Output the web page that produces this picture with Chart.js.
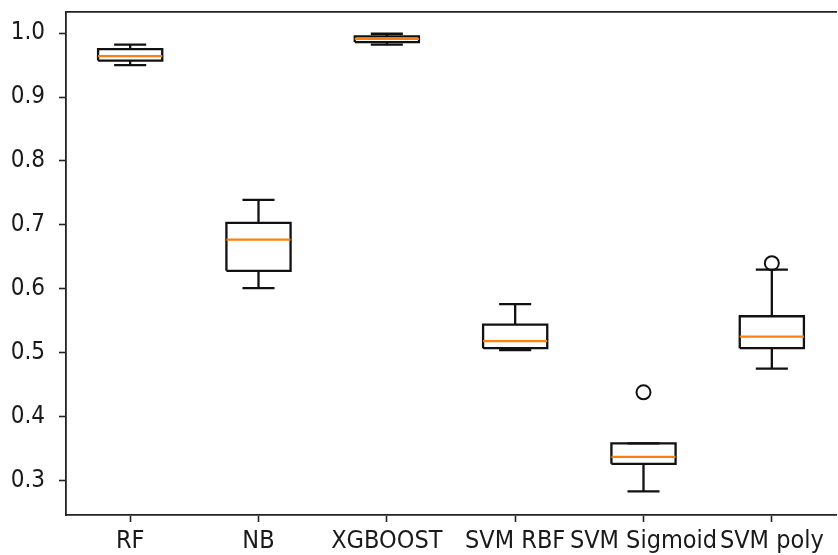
<!DOCTYPE html>
<html>
<head>
<meta charset="utf-8">
<script src="https://cdn.jsdelivr.net/npm/chart.js@4"></script>
<style>
  html, body { margin: 0; padding: 0; background: #fff; overflow: hidden; }
  #wrap { position: relative; width: 845px; height: 555px; }
</style>
</head>
<body>
<div id="wrap"><canvas id="c"></canvas></div>
<script>
// ---- data ----
const categories  = ['RF', 'NB', 'XGBOOST', 'SVM RBF', 'SVM Sigmoid', 'SVM poly'];
const whiskerLow  = [0.950, 0.601, 0.982, 0.504, 0.283, 0.475];
const q1          = [0.957, 0.628, 0.986, 0.507, 0.326, 0.507];
const medians     = [0.964, 0.677, 0.991, 0.518, 0.337, 0.525];
const q3          = [0.975, 0.703, 0.995, 0.544, 0.358, 0.557];
const whiskerHigh = [0.982, 0.739, 0.999, 0.576, 0.358, 0.630];
const outliers    = [[], [], [], [], [0.438], [0.640]];
const yTicks      = [0.3, 0.4, 0.5, 0.6, 0.7, 0.8, 0.9, 1.0];

// ---- build line segments from the values ----
const BOX_HALF = 0.25, CAP_HALF = 0.125;
const gap = (x) => ({ x: x, y: null });
const boxPts = [], medPts = [], whiskPts = [], capPts = [], outPts = [];
categories.forEach((c, i) => {
  const x = i + 1;
  boxPts.push({x: x - BOX_HALF, y: q1[i]}, {x: x + BOX_HALF, y: q1[i]},
              {x: x + BOX_HALF, y: q3[i]}, {x: x - BOX_HALF, y: q3[i]},
              {x: x - BOX_HALF, y: q1[i]}, gap(x));
  medPts.push({x: x - BOX_HALF, y: medians[i]}, {x: x + BOX_HALF, y: medians[i]}, gap(x));
  whiskPts.push({x: x, y: q1[i]}, {x: x, y: whiskerLow[i]}, gap(x),
                {x: x, y: q3[i]}, {x: x, y: whiskerHigh[i]}, gap(x));
  capPts.push({x: x - CAP_HALF, y: whiskerLow[i]}, {x: x + CAP_HALF, y: whiskerLow[i]}, gap(x),
              {x: x - CAP_HALF, y: whiskerHigh[i]}, {x: x + CAP_HALF, y: whiskerHigh[i]}, gap(x));
  outliers[i].forEach(v => outPts.push({x: x, y: v}));
});

const lineDs = (data, color, order) => ({
  type: 'scatter', data, showLine: true, spanGaps: false,
  borderColor: color, borderWidth: 2.3, pointRadius: 0, tension: 0,
  order, borderCapStyle: 'butt', borderJoinStyle: 'miter'
});

const FAMILY = "'DejaVu Sans Condensed', 'DejaVu Sans'";
const TXT = '#1a1a1a';

new Chart(document.getElementById('c'), {
  type: 'scatter',
  data: {
    datasets: [
      lineDs(medPts, '#ff7f0e', 0),
      { type: 'scatter', data: outPts, pointStyle: 'circle', pointRadius: 7,
        borderColor: '#111', borderWidth: 2, backgroundColor: 'rgba(0,0,0,0)', order: 0 },
      lineDs(boxPts, '#111', 1),
      lineDs(capPts, '#111', 2),
      lineDs(whiskPts, '#111', 3)
    ]
  },
  options: {
    responsive: true,
    maintainAspectRatio: false,
    animation: false,
    devicePixelRatio: 1,
    layout: { padding: { top: 12, left: 0, right: 0, bottom: 0 } },
    plugins: { legend: { display: false }, tooltip: { enabled: false } },
    scales: {
      x: {
        type: 'linear', position: 'bottom', min: 0.5, max: 6.5,
        afterBuildTicks: (s) => { s.ticks = categories.map((_, i) => ({ value: i + 1 })); },
        afterFit: (s) => { s.height = 40; s.paddingLeft = 0; s.paddingRight = 0; },
        ticks: {
          autoSkip: false, maxRotation: 0, minRotation: 0, padding: 4,
          font: { family: FAMILY, size: 25 }, color: TXT,
          callback: (v) => categories[Math.round(v) - 1]
        },
        grid: { drawOnChartArea: false, drawTicks: true, tickLength: 7, tickWidth: 1.6, tickColor: '#222' },
        border: { display: true, color: '#222', width: 1.8 }
      },
      xTop: {
        type: 'linear', position: 'top', min: 0.5, max: 6.5,
        afterFit: (s) => { s.height = 0; s.paddingLeft = 0; s.paddingRight = 0; },
        ticks: { display: false },
        grid: { display: false, drawTicks: false },
        border: { display: true, color: '#222', width: 1.8 }
      },
      y: {
        type: 'linear', min: 0.246, max: 1.033,
        afterBuildTicks: (s) => { s.ticks = yTicks.map(v => ({ value: v })); },
        afterFit: (s) => { s.width = 66; s.paddingTop = 0; s.paddingBottom = 0; },
        ticks: { padding: 14, font: { family: FAMILY, size: 24 }, color: TXT, callback: (v) => Number(v).toFixed(1) },
        grid: { drawOnChartArea: false, drawTicks: true, tickLength: 7, tickWidth: 1.6, tickColor: '#222' },
        border: { display: true, color: '#222', width: 1.8 }
      }
    }
  }
});
</script>
</body>
</html>
